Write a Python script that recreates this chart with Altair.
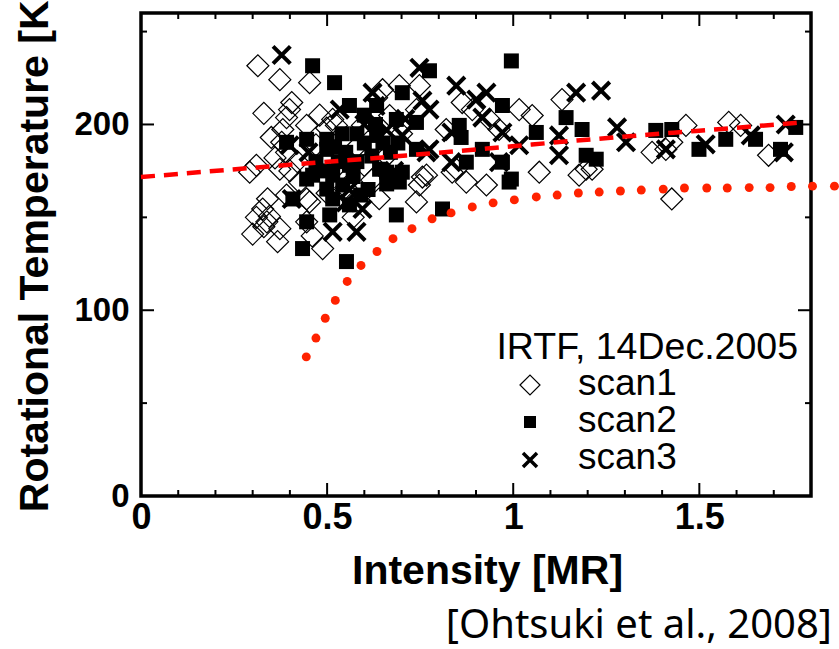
import altair as alt
import pandas as pd

# ---------------- data ----------------
scan1_x = [0.314, 0.373, 0.453, 0.405, 0.391, 0.445, 0.633, 0.649, 0.515, 0.292,
           0.391, 0.373, 0.426, 0.391, 0.327, 0.338, 0.373, 0.445, 0.445, 0.399,
           0.381, 0.378, 0.345, 0.367, 0.488, 0.453, 0.525, 0.499, 0.595, 0.756,
           0.740, 0.668, 0.740, 0.820, 0.748, 0.694, 0.863, 0.890, 0.936, 0.962,
           1.016, 1.051, 1.131, 0.767, 0.748, 0.874, 0.928, 0.847, 1.070, 1.177,
           1.196, 1.373, 1.426, 1.426, 1.464, 1.579, 1.611, 1.410, 1.686, 0.836,
           1.212, 0.30, 0.33, 0.36, 0.31, 0.35, 0.42, 0.47, 0.52, 0.55,
           0.58, 0.62, 0.66, 0.70, 0.57, 0.50, 0.46, 0.34, 0.31, 0.40,
           0.48, 0.60, 0.64, 0.33]
scan1_y = [231.6, 224.1, 222.5, 211.8, 203.7, 199.5, 214.4, 218.7, 202.7, 174.3,
           185.0, 175.9, 169.0, 162.0, 154.5, 147.6, 143.9, 159.9, 147.6, 208.0,
           197.3, 190.4, 150.5, 136.9, 133.2, 158.3, 199.5, 198.0, 199.5, 171.7,
           158.3, 204.8, 208.0, 197.3, 220.9, 220.9, 211.8, 208.0, 202.7, 197.3,
           208.0, 204.8, 213.4, 172.7, 167.4, 169.0, 167.4, 175.9, 174.3, 172.7,
           175.9, 185.0, 190.4, 159.9, 199.5, 201.1, 199.5, 186.6, 183.4, 174.3,
           175.9, 141.0, 145.0, 182.0, 178.0, 193.0, 180.0, 189.0, 176.0, 166.0,
           188.0, 170.0, 183.0, 195.0, 150.0, 163.0, 140.0, 160.0, 150.0, 175.0,
           205.0, 178.0, 160.0, 206.0]

scan2_x = [0.461, 0.520, 0.560, 0.633, 0.445, 0.391, 0.686, 0.499, 0.515, 0.461,
           0.445, 0.507, 0.686, 0.408, 0.499, 0.445, 0.499, 0.515, 0.542, 0.560,
           0.434, 0.552, 0.810, 0.633, 0.740, 0.641, 0.676, 0.702, 0.740, 0.995,
           0.775, 0.702, 0.855, 0.860, 0.971, 1.062, 1.142, 1.185, 1.223, 1.196,
           0.989, 0.917, 0.874, 0.971, 0.694, 0.660, 1.383, 1.426, 1.571, 1.499,
           1.651, 1.718, 1.759, 0.995, 0.55, 0.58, 0.60, 0.62, 0.53, 0.57,
           0.65, 0.59, 0.47, 0.60, 0.67, 0.54, 0.52, 0.56, 0.63, 0.66,
           0.58, 0.50, 0.61, 0.69]
scan2_y = [231.6, 222.5, 210.2, 210.2, 192.0, 190.4, 202.7, 192.0, 172.7, 172.7,
           147.6, 151.3, 151.3, 159.9, 186.6, 170.6, 165.2, 159.9, 167.4, 156.7,
           133.2, 126.2, 154.5, 194.1, 201.1, 175.9, 170.6, 174.3, 186.6, 234.2,
           228.9, 217.1, 199.5, 193.0, 210.2, 195.7, 203.7, 197.3, 181.3, 183.4,
           169.0, 186.6, 179.7, 179.7, 169.0, 174.3, 196.8, 197.3, 192.0, 186.6,
           192.0, 186.6, 198.4, 170.6, 185.0, 195.0, 190.0, 183.0, 180.0, 172.0,
           190.0, 162.0, 180.0, 205.0, 185.0, 195.0, 188.0, 178.0, 200.0, 168.0,
           180.0, 175.0, 165.0, 190.0]

scan3_x = [0.378, 0.622, 0.534, 0.399, 0.405, 0.515, 0.579, 0.595, 0.775, 0.775,
           0.702, 0.748, 0.847, 0.928, 0.901, 0.756, 0.917, 0.834, 0.971, 1.016,
           1.123, 1.123, 1.169, 1.236, 1.279, 1.303, 1.410, 0.834, 0.767, 0.962,
           1.517, 1.638, 1.732, 1.727, 0.60, 0.63, 0.56, 0.68, 0.45, 0.66,
           0.55, 0.71]
scan3_y = [237.4, 217.1, 208.0, 188.8, 159.9, 142.2, 142.2, 154.5, 186.6, 208.0,
           194.1, 230.5, 220.9, 217.1, 213.4, 212.8, 203.7, 195.7, 195.7, 188.8,
           194.1, 183.4, 217.1, 218.2, 198.4, 190.4, 186.6, 179.7, 185.0, 179.7,
           189.3, 194.1, 200.0, 185.0, 200.0, 210.0, 165.0, 175.0, 185.0, 197.0,
           158.0, 203.0]

# red dashed fit
fit_x = [0.0, 0.32, 0.46, 0.605, 0.67, 0.80, 0.93, 1.05, 1.18, 1.32, 1.43, 1.55, 1.66, 1.77]
fit_y = [171.7, 177.0, 179.3, 181.5, 182.6, 184.8, 187.0, 189.2, 191.5, 193.8, 195.6, 197.4, 199.2, 201.0]

# red dotted model curve (dot positions)
dot_x = [0.444, 0.470, 0.495, 0.522, 0.554, 0.591, 0.634, 0.677, 0.728, 0.782,
         0.833, 0.890, 0.946, 1.003, 1.062, 1.118, 1.175, 1.231, 1.288, 1.344,
         1.403, 1.460, 1.520, 1.575, 1.634, 1.690, 1.747, 1.804, 1.863]
dot_y = [74.9, 85.0, 95.7, 105.3, 115.5, 124.1, 131.6, 138.5, 143.9, 149.2,
         152.4, 155.6, 157.8, 159.4, 161.0, 162.0, 163.1, 163.6, 164.2, 164.7,
         165.2, 165.8, 165.8, 165.8, 166.0, 166.0, 166.6, 166.8, 166.8]

x_major = [0.5, 1.0, 1.5]
x_minor = [0.1, 0.2, 0.3, 0.4, 0.6, 0.7, 0.8, 0.9, 1.1, 1.2, 1.3, 1.4, 1.6, 1.7]
y_major = [100, 200]
y_minor = [50, 150, 250]
x_labels = [0, 0.5, 1, 1.5]
y_labels = [0, 100, 200]

legend_title = "IRTF, 14Dec.2005"
legend_names = ["scan1", "scan2", "scan3"]
citation = "[Ohtsuki et al., 2008]"

W, H = 670, 483
XD = [0, 1.8]
YD = [0, 260]
AXF = "Liberation Sans"

xs = alt.Scale(domain=XD, nice=False, zero=False)
ys = alt.Scale(domain=YD, nice=False, zero=False)

d1 = pd.DataFrame({"x": scan1_x, "y": scan1_y})
d2 = pd.DataFrame({"x": scan2_x, "y": scan2_y})
d3 = pd.DataFrame({"x": scan3_x, "y": scan3_y})
dfit = pd.DataFrame({"x": fit_x, "y": fit_y})
ddot = pd.DataFrame({"x": dot_x, "y": dot_y})

xaxis = alt.Axis(values=x_labels, labelExpr="datum.value + ''", ticks=False, domain=False,
                 grid=False, labelFont=AXF, labelFontWeight="bold", labelFontSize=36,
                 labelColor="black", labelPadding=4, labelFlush=False, labelOverlap=False,
                 title="Intensity [MR]", titleFont=AXF, titleFontWeight="bold",
                 titleFontSize=41, titleColor="black", titlePadding=16, titleX=346)
yaxis = alt.Axis(values=y_labels, labelExpr="datum.value + ''", ticks=False, domain=False,
                 grid=False, labelFont=AXF, labelFontWeight="bold", labelFontSize=33,
                 labelColor="black", labelPadding=12, labelFlush=False, labelOverlap=False,
                 title="Rotational Temperature [K]", titleFont=AXF, titleFontWeight="bold",
                 titleFontSize=41, titleColor="black", titlePadding=17, titleY=236)

X = lambda: alt.X("x:Q", scale=xs, axis=xaxis)
Y = lambda: alt.Y("y:Q", scale=ys, axis=yaxis)

diam = alt.Chart(d1).mark_point(shape="diamond", size=484, filled=False, stroke="black",
                                 strokeWidth=1.2, opacity=1).encode(x=X(), y=Y())
sq = alt.Chart(d2).mark_point(shape="square", size=225, filled=True, color="black",
                              opacity=1).encode(x=X(), y=Y())
cross_path = "M-1,-1L1,1M-1,1L1,-1"
cr = alt.Chart(d3).mark_point(shape=cross_path, size=300, filled=False, stroke="black",
                              strokeWidth=4, opacity=1).encode(x=X(), y=Y())

fit = alt.Chart(dfit).mark_line(color="#ff0000", strokeWidth=4.5, strokeDash=[14, 9],
                                interpolate="monotone").encode(x=X(), y=Y())
dots = alt.Chart(ddot).mark_circle(size=80, color="#ff2200", opacity=1).encode(x=X(), y=Y())

# inward ticks on all four sides
tx_major = pd.DataFrame({"x": x_major})
tx_minor = pd.DataFrame({"x": x_minor})
ty_major = pd.DataFrame({"y": y_major})
ty_minor = pd.DataFrame({"y": y_minor})
tick_layers = []
for df, L in [(tx_major, 13), (tx_minor, 6)]:
    tick_layers.append(alt.Chart(df).mark_rule(color="black", strokeWidth=2).encode(
        x=X(), y=alt.value(H), y2=alt.value(H - L)))
    tick_layers.append(alt.Chart(df).mark_rule(color="black", strokeWidth=2).encode(
        x=X(), y=alt.value(0), y2=alt.value(L)))
for df, L in [(ty_major, 13), (ty_minor, 6)]:
    tick_layers.append(alt.Chart(df).mark_rule(color="black", strokeWidth=2).encode(
        y=Y(), x=alt.value(0), x2=alt.value(L)))
    tick_layers.append(alt.Chart(df).mark_rule(color="black", strokeWidth=2).encode(
        y=Y(), x=alt.value(W), x2=alt.value(W - L)))

# legend (manual)
lt = alt.Chart(pd.DataFrame({"t": [legend_title]})).mark_text(
    align="right", baseline="alphabetic", font=AXF, fontSize=37.5, color="black").encode(
    text="t:N", x=alt.value(657), y=alt.value(346))
leg_rows = []
for i, name in enumerate(legend_names):
    by = 382 + i * 37
    leg_rows.append(alt.Chart(pd.DataFrame({"t": [name]})).mark_text(
        align="left", baseline="alphabetic", font=AXF, fontSize=37, color="black").encode(
        text="t:N", x=alt.value(437), y=alt.value(by)))
lsym1 = alt.Chart(pd.DataFrame({"t": [legend_names[0]]})).mark_point(
    shape="diamond", size=400, filled=False, stroke="black", strokeWidth=1.2, opacity=1).encode(
    x=alt.value(389), y=alt.value(372))
lsym2 = alt.Chart(pd.DataFrame({"t": [legend_names[1]]})).mark_point(
    shape="square", size=144, filled=True, color="black", opacity=1).encode(
    x=alt.value(389), y=alt.value(409))
lsym3 = alt.Chart(pd.DataFrame({"t": [legend_names[2]]})).mark_point(
    shape=cross_path, size=196, filled=False, stroke="black", strokeWidth=3.5, opacity=1).encode(
    x=alt.value(389), y=alt.value(447))

cite = alt.Chart(pd.DataFrame({"t": [citation]})).mark_text(
    align="right", baseline="alphabetic", font="Noto Sans", fontSize=40, color="black").encode(
    text="t:N", x=alt.value(691), y=alt.value(625))

chart = alt.layer(
    diam, sq, cr, fit, dots, *tick_layers, lt, *leg_rows, lsym1, lsym2, lsym3, cite
).properties(
    width=W, height=H,
    autosize=alt.AutoSizeParams(type="none"),
    padding={"left": 141, "top": 13, "right": 28, "bottom": 153},
    background="white",
).configure_view(stroke="black", strokeWidth=3.5)

chart.save("out.html", embed_options={"renderer": "svg", "actions": False})
